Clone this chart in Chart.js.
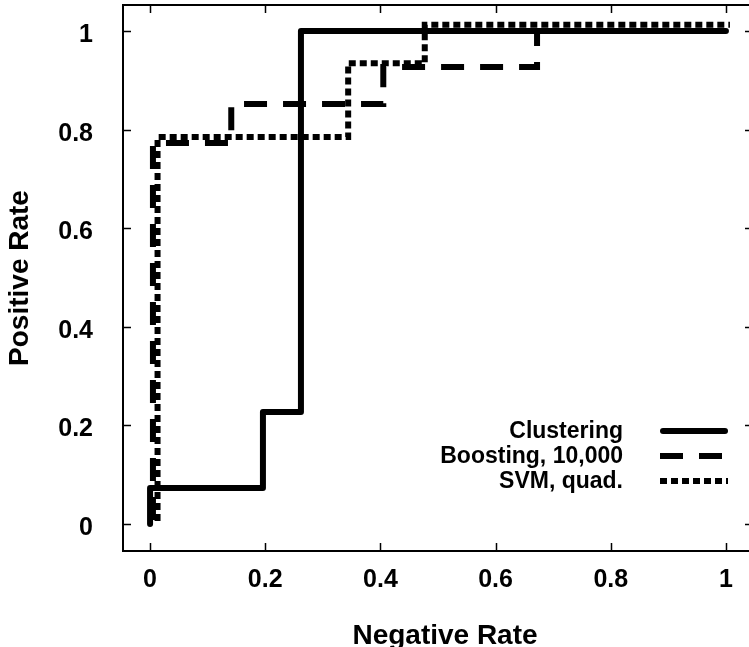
<!DOCTYPE html>
<html>
<head>
<meta charset="utf-8">
<title>ROC curves</title>
<script src="https://cdn.jsdelivr.net/npm/chart.js@4/dist/chart.umd.min.js"></script>
<style>
  html, body { margin: 0; padding: 0; background: #fff; overflow: hidden; }
  #wrap { width: 749px; height: 647px; overflow: hidden; }
</style>
</head>
<body>
<div id="wrap"><canvas id="roc" width="760" height="647"></canvas></div>
<script>
// values
const clusteringX = [0, 0, 0.196, 0.196, 0.262, 0.262, 1];
const clusteringY = [0, 0.073, 0.073, 0.227, 0.227, 1, 1];

const boostingX = [0.005, 0.005, 0.141, 0.141, 0.405, 0.405, 0.672, 0.672, 1];
const boostingY = [0.008, 0.773, 0.773, 0.852, 0.852, 0.927, 0.927, 1, 1];

const svmX = [0.013, 0.013, 0.344, 0.344, 0.477, 0.477, 1.007];
const svmY = [0.006, 0.785, 0.785, 0.935, 0.935, 1.013, 1.013];

const xTicks = [0, 0.2, 0.4, 0.6, 0.8, 1];
const yTicks = [0, 0.2, 0.4, 0.6, 0.8, 1];

const FONT = "'Liberation Sans', Arial, Helvetica, sans-serif";

function toPoints(xs, ys) {
    return xs.map((x, i) => ({ x: x, y: ys[i] }));
}

function fixTicks(values) {
    return function(scale) {
        scale.ticks = values.map(v => ({ value: v }));
    };
}

// gnuplot style frame with inward ticks on all four sides
const framePlugin = {
    id: 'frame',
    beforeDatasetsDraw(chart) {
        const ctx = chart.ctx;
        const a = chart.chartArea;
        const x = chart.scales.x;
        const y = chart.scales.y;
        ctx.save();
        ctx.strokeStyle = '#000';
        ctx.lineWidth = 2;
        ctx.strokeRect(a.left, a.top, a.right - a.left, a.bottom - a.top);
        ctx.lineWidth = 1.5;
        ctx.beginPath();
        xTicks.forEach(v => {
            const px = Math.round(x.getPixelForValue(v)) + 0.5;
            ctx.moveTo(px, a.bottom); ctx.lineTo(px, a.bottom - 8);
            ctx.moveTo(px, a.top); ctx.lineTo(px, a.top + 8);
        });
        yTicks.forEach(v => {
            const py = Math.round(y.getPixelForValue(v)) + 0.5;
            ctx.moveTo(a.left, py); ctx.lineTo(a.left + 8, py);
            ctx.moveTo(a.right, py); ctx.lineTo(a.right - 8, py);
        });
        ctx.stroke();
        ctx.restore();
    },
    afterDraw(chart) {
        const ctx = chart.ctx;
        const a = chart.chartArea;
        ctx.save();
        ctx.fillStyle = '#000';

        // axis titles
        ctx.font = 'bold 28px ' + FONT;
        ctx.textAlign = 'center';
        ctx.textBaseline = 'middle';
        ctx.fillText('Negative Rate', 445, 636);
        ctx.save();
        ctx.translate(20, (a.top + a.bottom) / 2);
        ctx.rotate(-Math.PI / 2);
        ctx.fillText('Positive Rate', 0, 0);
        ctx.restore();

        // key, text on the left of the sample line
        ctx.font = 'bold 23px ' + FONT;
        ctx.textAlign = 'right';
        chart.data.datasets.forEach((ds, i) => {
            const rowY = 431 + i * 25;
            ctx.fillText(ds.label, 623, rowY + 1);
            ctx.save();
            ctx.strokeStyle = '#000';
            ctx.lineWidth = ds.borderWidth;
            ctx.lineCap = ds.borderCapStyle;
            ctx.setLineDash(ds.borderDash || []);
            ctx.beginPath();
            ctx.moveTo(ds.borderCapStyle === 'round' ? 663 : 660, rowY);
            ctx.lineTo(ds.borderCapStyle === 'round' ? 725 : 728, rowY);
            ctx.stroke();
            ctx.restore();
        });
        ctx.restore();
    }
};

new Chart(document.getElementById('roc'), {
    type: 'line',
    data: {
        datasets: [
            {
                label: 'Clustering',
                data: toPoints(clusteringX, clusteringY),
                borderColor: '#000',
                borderWidth: 6,
                borderCapStyle: 'round',
                borderJoinStyle: 'round',
                pointRadius: 0,
                tension: 0
            },
            {
                label: 'Boosting, 10,000',
                data: toPoints(boostingX, boostingY),
                borderColor: '#000',
                borderWidth: 6,
                borderDash: [23, 16],
                borderCapStyle: 'butt',
                borderJoinStyle: 'miter',
                pointRadius: 0,
                tension: 0
            },
            {
                label: 'SVM, quad.',
                data: toPoints(svmX, svmY),
                borderColor: '#000',
                borderWidth: 6,
                borderDash: [7, 4],
                borderCapStyle: 'butt',
                borderJoinStyle: 'miter',
                pointRadius: 0,
                tension: 0
            }
        ]
    },
    options: {
        responsive: false,
        animation: false,
        devicePixelRatio: 1,
        layout: { padding: { top: 5, right: 7, left: 0, bottom: 0 } },
        plugins: {
            legend: { display: false },
            tooltip: { enabled: false }
        },
        scales: {
            x: {
                type: 'linear',
                min: -0.047,
                max: 1.047,
                afterBuildTicks: fixTicks(xTicks),
                afterFit(scale) {
                    scale.height = 96;
                    scale.paddingLeft = 0;
                    scale.paddingRight = 0;
                },
                grid: { display: false, drawTicks: false },
                border: { display: false },
                ticks: {
                    padding: 14,
                    maxRotation: 0,
                    autoSkip: false,
                    color: '#000',
                    font: { family: FONT, size: 25, weight: 'bold' },
                    callback: v => String(v)
                }
            },
            y: {
                type: 'linear',
                min: -0.055,
                max: 1.053,
                afterBuildTicks: fixTicks(yTicks),
                afterFit(scale) {
                    scale.width = 123;
                    scale.paddingTop = 0;
                    scale.paddingBottom = 0;
                },
                grid: { display: false, drawTicks: false },
                border: { display: false },
                ticks: {
                    padding: 30,
                    labelOffset: 4,
                    autoSkip: false,
                    color: '#000',
                    font: { family: FONT, size: 25, weight: 'bold' },
                    callback: v => String(v)
                }
            }
        }
    },
    plugins: [framePlugin]
});
</script>
</body>
</html>
